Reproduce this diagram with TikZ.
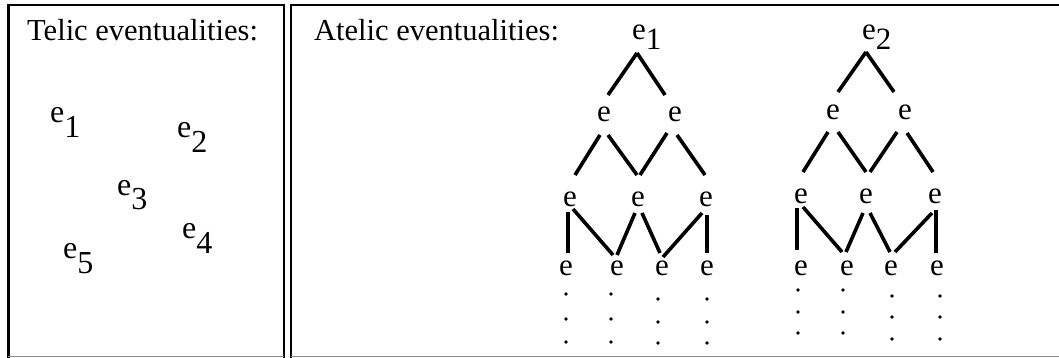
\documentclass[tikz,border=0pt]{standalone}
\usepackage{fontspec}
\setmainfont{Liberation Serif}
\usetikzlibrary{calc}
\tikzset{
  frame/.style={line width=2.4pt, line join=miter},
  edgeline/.style={line width=0.9pt, draw=black!45},
  heading/.style={inner sep=0, anchor=base west, font=\fontsize{30.5}{36}\selectfont},
  telic/.style={inner sep=0, anchor=base west, font=\fontsize{32}{38}\selectfont},
  root/.style={inner sep=0, anchor=base west, font=\fontsize{31}{37}\selectfont},
  ev/.style={inner sep=0, anchor=base, font=\fontsize{31}{37}\selectfont},
  dot/.style={circle, fill=black, inner sep=0, minimum size=3.6pt},
  branch/.style={line width=3.6pt}
}
\newcommand{\subdrop}[2]{\raisebox{-#1pt}{#2}}
\begin{document}
\begin{tikzpicture}[x=1pt, y=-1pt]
  \useasboundingbox (0,0) rectangle (1059,358);

  % the two panels
  \draw[frame] (8.3,358) -- (8.3,4.8) -- (283.7,4.8) -- (283.7,358);
  \draw[frame] (291.2,358) -- (291.2,4.8) -- (1062,4.8);
  \draw[edgeline] (8.3,356.6) -- (283.7,356.6);
  \draw[edgeline] (291.2,356.6) -- (1059,356.6);

  % left panel: separate eventualities
  \node[heading] (telichead) at (27,41) {Telic eventualities:};
  \node[telic] (t1) at (50,123)  {e\subdrop{14.5}{1}};
  \node[telic] (t2) at (177,138) {e\subdrop{14.5}{2}};
  \node[telic] (t3) at (117,195) {e\subdrop{14}{3}};
  \node[telic] (t4) at (182,238) {e\subdrop{15}{4}};
  \node[telic] (t5) at (63,258)  {e\subdrop{15}{5}};

  % right panel: part structures
  \node[heading] (atelichead) at (314,41) {Atelic eventualities:};

  % first lattice
  \node[root] (a0) at (632,40) {e\subdrop{10}{1}};
  \node[ev] (a1) at (604,122) {e};
  \node[ev] (a2) at (675,122) {e};
  \node[ev] (a3) at (570,206) {e};
  \node[ev] (a4) at (638,206) {e};
  \node[ev] (a5) at (706,206) {e};
  \node[ev] (a6) at (566,275) {e};
  \node[ev] (a7) at (617,275) {e};
  \node[ev] (a8) at (662,275) {e};
  \node[ev] (a9) at (707,275) {e};

  \draw[branch] ($(a0.base west)+(5,13)$) -- ($(a1.base)+(4,-27)$);
  \draw[branch] ($(a0.base west)+(5,13)$) -- ($(a2.base)+(-10,-27)$);
  \draw[branch] ($(a1.base)+(-4,13)$) -- ($(a3.base)+(5,-31)$);
  \draw[branch] ($(a1.base)+(4,13)$) -- ($(a4.base)+(-1,-31)$);
  \draw[branch] ($(a2.base)+(-8,11)$) -- ($(a4.base)+(2,-31)$);
  \draw[branch] ($(a2.base)+(2,13)$) -- ($(a5.base)+(-1,-31)$);
  \draw[branch] ($(a3.base)+(-2,6)$) -- ($(a6.base)+(2,-22)$);
  \draw[branch] ($(a3.base)+(3,3)$) -- ($(a7.base)+(-4,-20)$);
  \draw[branch] ($(a4.base)+(-3,7)$) -- ($(a7.base)+(0,-20)$);
  \draw[branch] ($(a4.base)+(4,7)$) -- ($(a8.base)+(-2,-22)$);
  \draw[branch] ($(a5.base)+(-4,7)$) -- ($(a8.base)+(1,-18)$);
  \draw[branch] ($(a5.base)+(1,9)$) -- ($(a9.base)+(0,-22)$);

  \foreach \c/\x/\ya/\yb/\yc in {1/566/294/319/342, 2/611/294/319/342, 3/658/299/322/343, 4/707/299/322/343}
    \foreach \r/\y in {1/\ya, 2/\yb, 3/\yc}
      \node[dot] (adot-\c-\r) at (\x,\y) {};

  % second lattice
  \node[root] (b0) at (862,40) {e\subdrop{10}{2}};
  \node[ev] (b1) at (833,120) {e};
  \node[ev] (b2) at (905,120) {e};
  \node[ev] (b3) at (801,203) {e};
  \node[ev] (b4) at (866,203) {e};
  \node[ev] (b5) at (935,203) {e};
  \node[ev] (b6) at (801,275) {e};
  \node[ev] (b7) at (847,275) {e};
  \node[ev] (b8) at (891,275) {e};
  \node[ev] (b9) at (937,275) {e};

  \draw[branch] ($(b0.base west)+(4,12)$) -- ($(b1.base)+(5,-28)$);
  \draw[branch] ($(b0.base west)+(4,12)$) -- ($(b2.base)+(-11,-28)$);
  \draw[branch] ($(b1.base)+(-5,12)$) -- ($(b3.base)+(2,-31)$);
  \draw[branch] ($(b1.base)+(5,12)$) -- ($(b4.base)+(0,-31)$);
  \draw[branch] ($(b2.base)+(-8,12)$) -- ($(b4.base)+(4,-31)$);
  \draw[branch] ($(b2.base)+(2,13)$) -- ($(b5.base)+(-2,-31)$);
  \draw[branch] ($(b3.base)+(-4,5)$) -- ($(b6.base)+(-4,-25)$);
  \draw[branch] ($(b3.base)+(2,4)$) -- ($(b7.base)+(-5,-23)$);
  \draw[branch] ($(b4.base)+(-3,10)$) -- ($(b7.base)+(-1,-23)$);
  \draw[branch] ($(b4.base)+(4,10)$) -- ($(b8.base)+(-1,-23)$);
  \draw[branch] ($(b5.base)+(-3,10)$) -- ($(b8.base)+(4,-23)$);
  \draw[branch] ($(b5.base)+(1,7)$) -- ($(b9.base)+(-1,-22)$);

  \foreach \c/\x/\ya/\yb/\yc in {1/798/290/312/333, 2/843/290/312/333, 3/892/296/317/339, 4/940/296/317/339}
    \foreach \r/\y in {1/\ya, 2/\yb, 3/\yc}
      \node[dot] (bdot-\c-\r) at (\x,\y) {};
\end{tikzpicture}
\end{document}
